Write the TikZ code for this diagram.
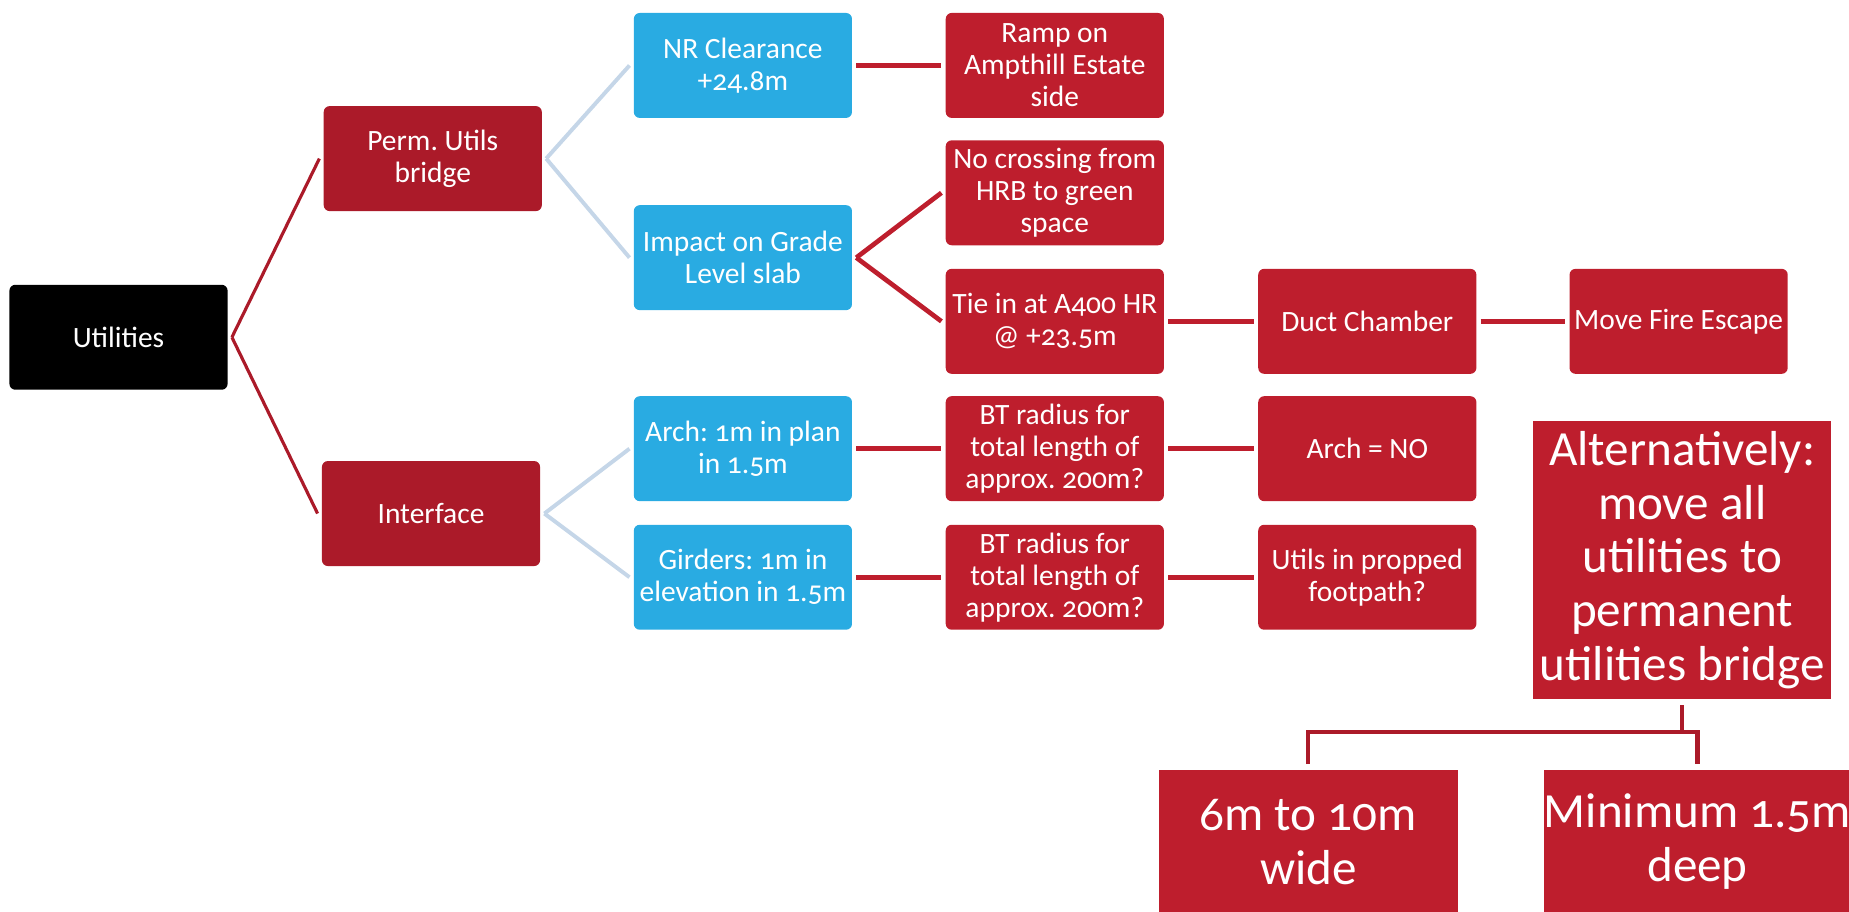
\documentclass[tikz,border=0pt]{standalone}
\usepackage{fontspec}
\setmainfont{Carlito}[Numbers=OldStyle]
\frenchspacing
\definecolor{boxred}{HTML}{BE1E2D}
\definecolor{darkred}{HTML}{AB1A29}
\definecolor{skyblue}{HTML}{29ABE2}
\definecolor{paleblue}{HTML}{C5D6E8}
\begin{document}
\begin{tikzpicture}[x=0.6pt, y=-0.6pt]
  \tikzset{
    box/.style={rounded corners=3pt, minimum width=111pt, minimum height=53.4pt, inner sep=1pt,
      outer sep=2.2pt, align=center, text=white, font=\fontsize{15}{16.3}\selectfont},
    rootbox/.style={box, fill=black},
    branch/.style={box, fill=darkred},
    sub/.style={box, fill=skyblue},
    leaf/.style={box, fill=boxred},
    bigbox/.style={fill=boxred, text=white, inner sep=0pt, outer sep=3pt, minimum width=151.8pt,
      align=center, font=\fontsize{25}{27.4}\selectfont},
    rootline/.style={draw=darkred, line width=1.6pt},
    paleline/.style={draw=paleblue, line width=2pt},
    redline/.style={draw=boxred, line width=2.4pt},
    bracket/.style={draw=darkred, line width=2.1pt}
  }
  \useasboundingbox (0,0) rectangle (1568,773);
  % ---- root and the two branches ----
  \node[rootbox] (util) at (100.5,286) {Utilities};
  \node[branch] (perm) at (367,134.5) {Perm. Utils\\bridge};
  \node[branch] (iface) at (365.5,435.5) {Interface};
  \foreach \b in {perm, iface} { \draw[rootline] (util.east) -- (\b.west); }
  % ---- second column ----
  \foreach \n/\y/\t in {nrc/55.5/{NR Clearance\\+24.8m}, impact/218.5/{Impact on Grade\\Level slab},
      archp/380.5/{Arch: 1m in plan\\in 1.5m}, girders/489.5/{Girders: 1m in\\elevation in 1.5m}} {
    \node[sub] (\n) at (630,\y) {\t};
  }
  \foreach \a/\b in {perm/nrc, perm/impact, iface/archp, iface/girders} {
    \draw[paleline] (\a.east) -- (\b.west);
  }
  % ---- leaves ----
  \foreach \n/\x/\y/\t in {ramp/894.5/55.5/{Ramp on\\Ampthill Estate\\side},
      nocross/894.5/163.5/{No crossing from\\HRB to green\\space},
      tiein/894.5/272.5/{Tie in at A400 HR\\@ +23.5m},
      btarch/894.5/380.5/{BT radius for\\total length of\\approx. 200m?},
      btgird/894.5/489.5/{BT radius for\\total length of\\approx. 200m?},
      duct/1159.5/272.5/{Duct Chamber}, fire/1423.5/272.5/{Move Fire Escape},
      archno/1159.5/380.5/{Arch = NO}, propped/1159.5/489.5/{Utils in propped\\footpath?}} {
    \node[leaf] (\n) at (\x,\y) {\t};
  }
  \foreach \a/\b in {impact/nocross, impact/tiein} { \draw[redline] (\a.east) -- (\b.west); }
  \foreach \a/\b in {nrc/ramp, tiein/duct, duct/fire, archp/btarch, btarch/archno,
      girders/btgird, btgird/propped} {
    \draw[redline] (\a) -- (\b);
  }
  % ---- alternative option ----
  \node[bigbox, minimum height=141.6pt] (alt) at (1426.5,475)
    {Alternatively:\\move all\\utilities to\\permanent\\utilities bridge};
  \node[bigbox, minimum height=73.2pt] (wide) at (1109.5,714) {6m to 10m\\wide};
  \node[bigbox, minimum height=73.2pt] (deep) at (1439.5,714) {Minimum 1.5m\\deep};
  \coordinate (fork) at (1426.5,621);
  \draw[bracket] (alt.south) -- (fork);
  \draw[bracket] (wide.north) |- (fork) -| (deep.north);
\end{tikzpicture}
\end{document}
